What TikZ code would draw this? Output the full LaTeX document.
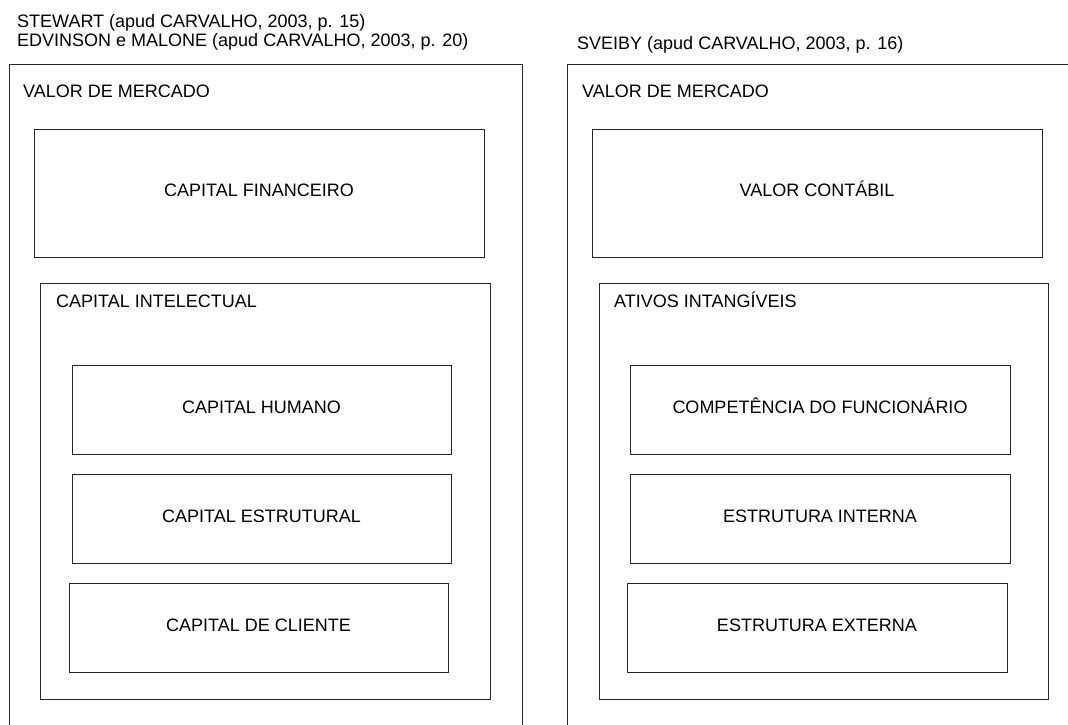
\documentclass[tikz,border=0pt]{standalone}
\usepackage{fontspec}
\setmainfont{Liberation Sans}
\begin{document}
\begin{tikzpicture}[x=1pt,y=-1pt,
  font=\fontsize{18}{21.6}\selectfont,
  boxst/.style={draw=black!85, line width=1pt, inner sep=0pt, outer sep=0pt,
    text height=0.72em, text depth=0pt, align=center},
  lbl/.style={inner sep=0pt, anchor=base west},
  frame/.style={draw=black!85, line width=1pt}]
\useasboundingbox (0,0) rectangle (1068,725);
\clip (0,0) rectangle (1068,725);
\fill[white] (0,0) rectangle (1068,725);
% headers
\node[lbl] (h1) at (17,28) {STEWART (apud CARVALHO, 2003, p. 15)};
\node[lbl] (h2) at (17,47) {EDVINSON e MALONE (apud CARVALHO, 2003, p. 20)};
\node[lbl] (h3) at (577,50) {SVEIBY (apud CARVALHO, 2003, p. 16)};
% outer frames (open at bottom / right edge)
\draw[frame] (9,740) -- (9,65) -- (522,65) -- (522,740);
\draw[frame] (567,740) -- (567,65) -- (1090,65) -- (1090,740);
\node[lbl] (vm1) at (23,97) {VALOR DE MERCADO};
\node[lbl] (vm2) at (582,97) {VALOR DE MERCADO};
% left column
\node[boxst, minimum width=450pt, minimum height=128pt] (cf) at (259,193) {CAPITAL FINANCEIRO};
\node[boxst, minimum width=450pt, minimum height=416pt] (ci) at (265,491) {};
\node[lbl] (cil) at (56,307) {CAPITAL INTELECTUAL};
\node[boxst, minimum width=379pt, minimum height=89pt] (ch) at (261.5,409.5) {CAPITAL HUMANO};
\node[boxst, minimum width=379pt, minimum height=89pt] (ce) at (261.5,518.5) {CAPITAL ESTRUTURAL};
\node[boxst, minimum width=379pt, minimum height=89pt] (cc) at (258.5,627.5) {CAPITAL DE CLIENTE};
% right column
\node[boxst, minimum width=450pt, minimum height=128pt] (vc) at (817,193) {VALOR CONTÁBIL};
\node[boxst, minimum width=449pt, minimum height=416pt] (ai) at (823.5,491) {};
\node[lbl] (ail) at (614,307) {ATIVOS INTANGÍVEIS};
\node[boxst, minimum width=380pt, minimum height=89pt] (cp) at (820,409.5) {COMPETÊNCIA DO FUNCIONÁRIO};
\node[boxst, minimum width=380pt, minimum height=89pt] (ei) at (820,518.5) {ESTRUTURA INTERNA};
\node[boxst, minimum width=380pt, minimum height=89pt] (ee) at (817,627.5) {ESTRUTURA EXTERNA};
\end{tikzpicture}
\end{document}
